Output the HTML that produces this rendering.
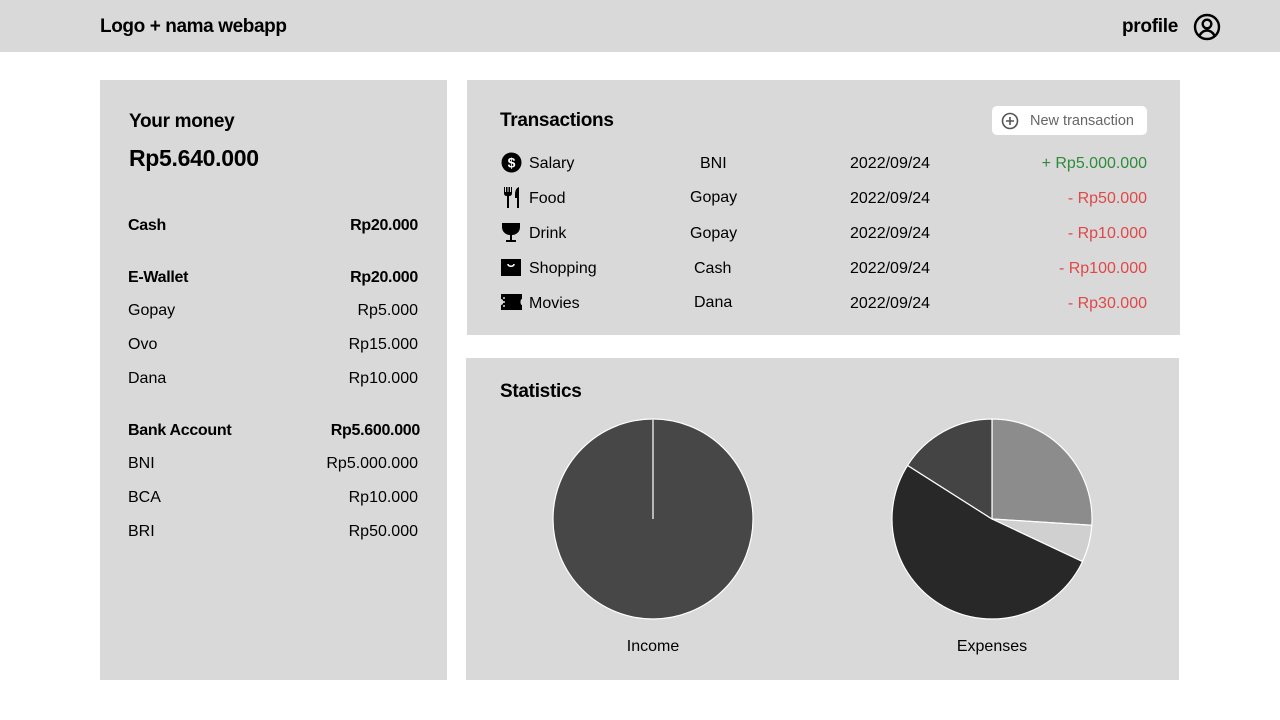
<!DOCTYPE html>
<html><head><meta charset="utf-8"><style>
*{box-sizing:border-box;margin:0;padding:0}
body{width:1280px;height:720px;background:#fff;font-family:"Liberation Sans",sans-serif;color:#000;position:relative;overflow:hidden}
.abs{position:absolute}
.hdr{left:0;top:0;width:1280px;height:52px;background:#d9d9d9}
.panel{background:#d9d9d9}
.row{position:absolute;left:128px;width:290px;font-size:16px;display:flex;justify-content:space-between}
.b{font-weight:bold;letter-spacing:-0.3px}
.tx{position:absolute;font-size:16px}
.red{color:#e04848}.green{color:#2e8b3a}
</style></head><body>
<div class="abs hdr">
 <div class="abs" style="left:100px;top:16px;font-size:19px;font-weight:bold;letter-spacing:-0.4px">Logo + nama webapp</div>
 <div class="abs" style="left:1122px;top:16px;font-size:19px;font-weight:bold;letter-spacing:-0.3px">profile</div>
 <svg class="abs" style="left:1193px;top:13px" width="28" height="28" viewBox="0 0 28 28"><circle cx="14" cy="14" r="12" fill="none" stroke="#000" stroke-width="2.4"/><circle cx="14" cy="11" r="4.3" fill="none" stroke="#000" stroke-width="2.4"/><path d="M6.5 22.5c2-3.5 4.5-5 7.5-5s5.5 1.5 7.5 5" fill="none" stroke="#000" stroke-width="2.4"/></svg>
</div>

<div class="abs panel" style="left:100px;top:80px;width:347px;height:600px"></div>
<div class="abs" style="left:129px;top:111px;font-size:19px;font-weight:bold;letter-spacing:-0.3px">Your money</div>
<div class="abs" style="left:129px;top:145px;font-size:23px;font-weight:bold;letter-spacing:-0.3px">Rp5.640.000</div>
<div class="row b" style="top:217px"><span>Cash</span><span>Rp20.000</span></div>
<div class="row b" style="top:269px"><span>E-Wallet</span><span>Rp20.000</span></div>
<div class="row" style="top:302px"><span>Gopay</span><span>Rp5.000</span></div>
<div class="row" style="top:336px"><span>Ovo</span><span>Rp15.000</span></div>
<div class="row" style="top:370px"><span>Dana</span><span>Rp10.000</span></div>
<div class="row b" style="top:422px;width:292px"><span>Bank Account</span><span>Rp5.600.000</span></div>
<div class="row" style="top:455px"><span>BNI</span><span>Rp5.000.000</span></div>
<div class="row" style="top:489px"><span>BCA</span><span>Rp10.000</span></div>
<div class="row" style="top:523px"><span>BRI</span><span>Rp50.000</span></div>

<div class="abs panel" style="left:467px;top:80px;width:713px;height:255px"></div>
<div class="abs" style="left:500px;top:110px;font-size:19px;font-weight:bold;letter-spacing:-0.3px">Transactions</div>
<div class="abs" style="left:992px;top:106px;width:155px;height:29px;background:#fff;border-radius:5px;font-size:14.5px;color:#666;padding:7px 0 0 38px">New transaction
 <svg class="abs" style="left:9px;top:6px" width="18" height="18" viewBox="0 0 18 18"><circle cx="9" cy="9" r="7.5" fill="none" stroke="#555" stroke-width="1.6"/><path d="M9 5v8M5 9h8" stroke="#555" stroke-width="1.6"/></svg></div>

<svg class="abs" style="left:501px;top:152px" width="21" height="21" viewBox="0 0 21 21"><circle cx="10.5" cy="10.5" r="10" fill="#000"/><text x="10.5" y="15.5" font-size="14" font-weight="bold" fill="#fff" text-anchor="middle" font-family="Liberation Sans">$</text></svg>
<svg class="abs" style="left:503px;top:187px" width="17" height="21" viewBox="0 0 17 21"><path d="M1 0v6c0 2 1 3 3 3v12h2V9c2 0 3-1 3-3V0H8v5H7V0H5.5v5h-1V0H3v5H2V0z" fill="#000"/><path d="M16 0c-3 1-4 4-4 8v3h2v10h2z" fill="#000"/></svg>
<svg class="abs" style="left:501px;top:223px" width="20" height="20" viewBox="0 0 20 20"><path d="M1 0h18v4c0 5-4 8-8 8v5h4v2H5v-2h4v-5C5 12 1 9 1 4z" fill="#000"/></svg>
<svg class="abs" style="left:501px;top:259px" width="20" height="17" viewBox="0 0 20 17"><rect width="20" height="17" fill="#000"/><path d="M7 5c0 3 6 3 6 0" stroke="#fff" stroke-width="1.6" fill="none"/></svg>
<svg class="abs" style="left:501px;top:294px" width="21" height="16" viewBox="0 0 21 16"><path d="M0 0h21v5c-2 0-2 6 0 6v5H0v-5c3 0 3-6 0-6z" fill="#000"/><path d="M3 3v10" stroke="#fff" stroke-width="1.3" stroke-dasharray="2 2"/></svg>

<div class="tx" style="left:529px;top:155px">Salary</div>
<div class="tx" style="left:700px;top:155px">BNI</div>
<div class="tx" style="left:850px;top:155px">2022/09/24</div>
<div class="tx green" style="right:133px;top:155px">+ Rp5.000.000</div>
<div class="tx" style="left:529px;top:190px">Food</div>
<div class="tx" style="left:690px;top:189px">Gopay</div>
<div class="tx" style="left:850px;top:190px">2022/09/24</div>
<div class="tx red" style="right:133px;top:190px">- Rp50.000</div>
<div class="tx" style="left:529px;top:225px">Drink</div>
<div class="tx" style="left:690px;top:225px">Gopay</div>
<div class="tx" style="left:850px;top:225px">2022/09/24</div>
<div class="tx red" style="right:133px;top:225px">- Rp10.000</div>
<div class="tx" style="left:529px;top:260px">Shopping</div>
<div class="tx" style="left:694px;top:260px">Cash</div>
<div class="tx" style="left:850px;top:260px">2022/09/24</div>
<div class="tx red" style="right:133px;top:260px">- Rp100.000</div>
<div class="tx" style="left:529px;top:295px">Movies</div>
<div class="tx" style="left:694px;top:294px">Dana</div>
<div class="tx" style="left:850px;top:295px">2022/09/24</div>
<div class="tx red" style="right:133px;top:295px">- Rp30.000</div>

<div class="abs panel" style="left:466px;top:358px;width:713px;height:322px"></div>
<div class="abs" style="left:500px;top:381px;font-size:19px;font-weight:bold;letter-spacing:-0.3px">Statistics</div>
<svg id="charts" class="abs" style="left:466px;top:358px" width="713" height="322"></svg>

<script>
const incomeCategories = ["Salary"];
const incomeValues = [5000000];
const incomeColors = ["#474747"];
const expenseCategories = ["Shopping", "Drink", "Food", "Movies"];
const expenseValues = [26, 6, 52, 16];
const expenseColors = ["#8c8c8c", "#d0d0d0", "#282828", "#444444"];
const chartTitles = ["Income", "Expenses"];

const NS = "http://www.w3.org/2000/svg";
const svg = document.getElementById("charts");
function drawPie(cx, cy, r, values, colors, cats, title, key) {
  const total = values.reduce((a, b) => a + b, 0);
  let acc = 0;
  const g = document.createElementNS(NS, "g");
  
  
  svg.appendChild(g);
  values.forEach((v, i) => {
    const a0 = acc / total * 2 * Math.PI; acc += v;
    const a1 = acc / total * 2 * Math.PI;
    let el;
    if (v / total >= 0.9999) {
      el = document.createElementNS(NS, "g");
      const c = document.createElementNS(NS, "circle");
      c.setAttribute("cx", cx); c.setAttribute("cy", cy); c.setAttribute("r", r);
      c.setAttribute("fill", colors[i]); c.setAttribute("stroke", "#fff"); c.setAttribute("stroke-width", "1.2");
      const l = document.createElementNS(NS, "line");
      l.setAttribute("x1", cx); l.setAttribute("y1", cy - r); l.setAttribute("x2", cx); l.setAttribute("y2", cy);
      l.setAttribute("stroke", "#ddd"); l.setAttribute("stroke-width", "1.5");
      el.appendChild(c); el.appendChild(l);
    } else {
      el = document.createElementNS(NS, "path");
      const x0 = cx + r * Math.sin(a0), y0 = cy - r * Math.cos(a0);
      const x1 = cx + r * Math.sin(a1), y1 = cy - r * Math.cos(a1);
      const large = (a1 - a0) > Math.PI ? 1 : 0;
      el.setAttribute("d", `M${cx},${cy}L${x0},${y0}A${r},${r} 0 ${large} 1 ${x1},${y1}Z`);
      el.setAttribute("fill", colors[i]); el.setAttribute("stroke", "#fff"); el.setAttribute("stroke-width", "1.2");
    }
    
    
    g.appendChild(el);
  });
  const t = document.createElementNS(NS, "text");
  t.setAttribute("x", cx); t.setAttribute("y", cy + r + 32);
  t.setAttribute("text-anchor", "middle"); t.setAttribute("font-size", "16");
  t.setAttribute("font-family", "Liberation Sans");
  t.textContent = title;
  
  
  svg.appendChild(t);
}
drawPie(187, 161, 100, incomeValues, incomeColors, incomeCategories, chartTitles[0], "income");
drawPie(526, 161, 100, expenseValues, expenseColors, expenseCategories, chartTitles[1], "expenses");
</script>
</body></html>
